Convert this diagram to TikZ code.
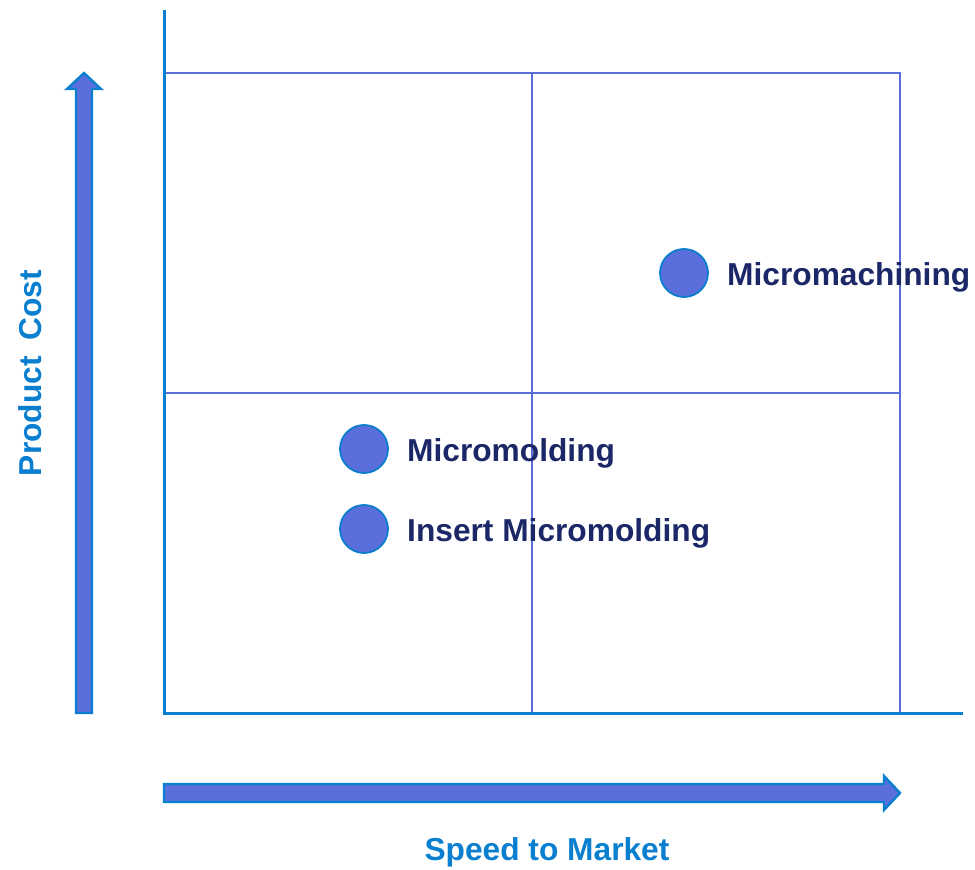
\documentclass[tikz,border=0pt]{standalone}
\usepackage{fontspec}
\setmainfont{Liberation Sans}
\definecolor{axisblue}{HTML}{0A7FD0}
\definecolor{gridblue}{HTML}{5B6FDC}
\definecolor{dotfill}{HTML}{5B6FDC}
\definecolor{labelnavy}{HTML}{1B2766}
\tikzset{
  axisline/.style={draw=axisblue, line width=3pt},
  gridline/.style={draw=gridblue, line width=1.4pt},
  dot/.style={circle, draw=axisblue, line width=1.8pt, fill=dotfill, minimum size=48pt, inner sep=0pt},
  itemlabel/.style={anchor=west, text=labelnavy, font=\bfseries\fontsize{31.7}{36}\selectfont, inner sep=0pt},
  axislabel/.style={text=axisblue, font=\bfseries\fontsize{31.7}{36}\selectfont, inner sep=0pt},
  bigarrow/.style={fill=dotfill, draw=axisblue, line width=2.4pt, line join=miter}
}
\begin{document}
\begin{tikzpicture}[x=1pt, y=-1pt]
\useasboundingbox (0,0) rectangle (975,870);
% quadrant grid
\draw[gridline] (164,73) rectangle (900,713);
\draw[gridline] (532,73) -- (532,713);
\draw[gridline] (164,393) -- (900,393);
% axes
\coordinate (origin) at (164,713);
\coordinate (ytop) at (164,10);
\coordinate (xend) at (963,713);
\draw[axisline] (ytop) -- (origin) -- (xend);
% direction arrows
\draw[bigarrow] (76,713) -- (76,89) -- (67,89) -- (84,73) -- (101,89) -- (92,89) -- (92,713) -- cycle;
\draw[bigarrow] (164,784) -- (884,784) -- (884,776) -- (900,793) -- (884,810) -- (884,802) -- (164,802) -- cycle;
% data points
\node[dot] (mach) at (684,273) {};
\node[dot] (mold) at (364,449) {};
\node[dot] (insert) at (364,529) {};
\node[itemlabel] (machl) at (727,277) {Micromachining};
\node[itemlabel] (moldl) at (407,453) {Micromolding};
\node[itemlabel] (insertl) at (407,533) {Insert Micromolding};
% axis titles
\node[axislabel] (xlabel) at (547,852) {Speed to Market};
\node[axislabel, rotate=90] (ylabel) at (30,373) {Product\hspace{0.5em}Cost};
\end{tikzpicture}
\end{document}
